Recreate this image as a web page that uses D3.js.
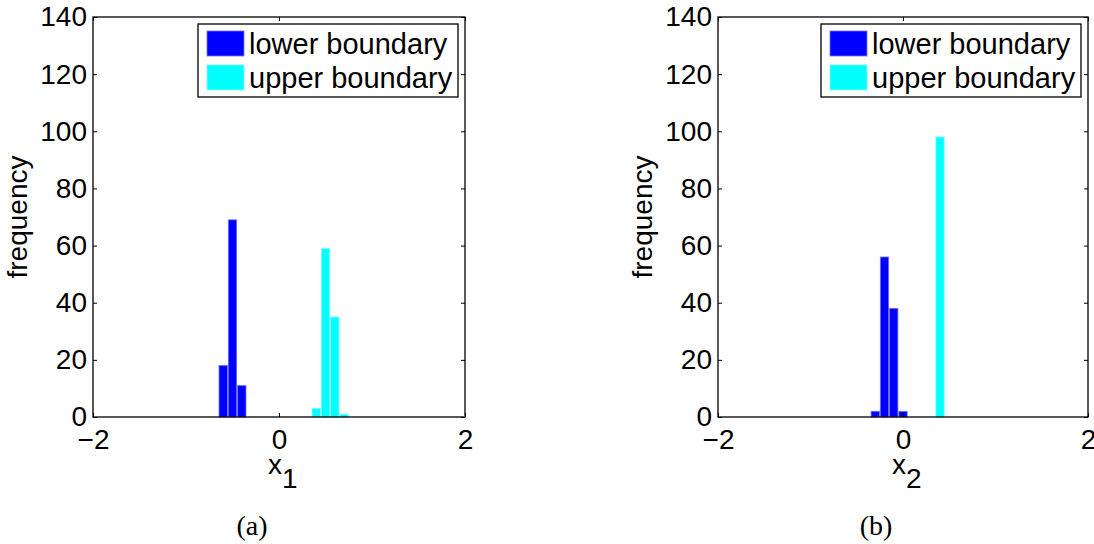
<!DOCTYPE html>
<html>
<head>
<meta charset="utf-8">
<script src="https://cdn.jsdelivr.net/npm/d3@7"></script>
<style>
body{margin:0;background:#fff;}
svg{display:block;}
</style>
</head>
<body>
<div class="fig"></div>
<script>
// bin centres and counts
var binsA_lower=[-0.6,-0.5,-0.4];
var countsA_lower=[18,69,11];
var binsA_upper=[0.4,0.5,0.6,0.7];
var countsA_upper=[3,59,35,1];
var binsB_lower=[-0.3,-0.2,-0.1,0.0];
var countsB_lower=[2,56,38,2];
var binsB_upper=[0.4];
var countsB_upper=[98];

var xTicks=[-2,0,2];
var yTicks=[0,20,40,60,80,100,120,140];
var seriesNames=['lower boundary','upper boundary'];
var seriesColors=['#0000ff','#00ffff'];
var seriesEdges=['#7070ff','#80ffff'];

var width=1094,height=544;
var sans='"Liberation Sans",Arial,sans-serif';
var svg=d3.select('div.fig')
		.append('svg')
		.attr('width',width)
		.attr('height',height)
		.style('font-family',sans);

function Hist(left,right,bins,counts,varName,tag){
	var top=17,bottom=417;
	var x=d3.scaleLinear().domain([-2,2]).range([left,right]);
	var y=d3.scaleLinear().domain([0,140]).range([bottom,top]);
	var g=svg.append('g');
	var binW=0.09;

	bins.forEach(function(b,s){
		var data=b.map(function(c,i){return {c:c,n:counts[s][i]};});
		g.selectAll('rect.s'+s)
			.data(data)
			.enter()
			.append('rect')
			.attr('class','s'+s)
			.attr('x',function(d){return x(d.c-binW/2);})
			.attr('width',function(d){return x(d.c+binW/2)-x(d.c-binW/2);})
			.attr('y',function(d){return y(d.n);})
			.attr('height',function(d){return y(0)-y(d.n);})
			.attr('fill',seriesColors[s])
			.attr('stroke',seriesEdges[s])
			.attr('stroke-width',0.8);
	});

	//axes, ticks inside
	var fs=28;
	var fmt=d3.format('d');
	g.append('g')
		.attr('transform','translate(0,'+bottom+')')
		.call(d3.axisBottom(x).tickValues(xTicks).tickFormat(fmt).tickSize(-4).tickPadding(12));
	g.append('g')
		.attr('transform','translate(0,'+top+')')
		.call(d3.axisTop(x).tickValues(xTicks).tickSize(-4).tickFormat(''));
	g.append('g')
		.attr('transform','translate('+left+',0)')
		.call(d3.axisLeft(y).tickValues(yTicks).tickFormat(fmt).tickSize(-4).tickPadding(6));
	g.append('g')
		.attr('transform','translate('+right+',0)')
		.call(d3.axisRight(y).tickValues(yTicks).tickSize(-4).tickFormat(''));
	g.selectAll('.domain').remove();
	g.selectAll('.tick line').attr('stroke','#000').attr('stroke-width',1);
	g.selectAll('.tick text')
		.style('font-family',sans)
		.style('font-size',fs+'px')
		.attr('fill','#000');
	g.append('rect')
		.attr('x',left).attr('y',top)
		.attr('width',right-left).attr('height',bottom-top)
		.attr('fill','none').attr('stroke','#000').attr('stroke-width',1.3);

	//labels
	var xl=g.append('text')
		.attr('x',x(0)-11)
		.attr('y',474)
		.style('font-size',fs+'px')
		.text('x');
	xl.append('tspan')
		.attr('dy',14)
		.text(varName);
	g.append('text')
		.attr('transform','translate('+(left-66)+','+(top+bottom)/2+') rotate(-90)')
		.attr('text-anchor','middle')
		.style('font-size',fs+'px')
		.text('frequency');
	g.append('text')
		.attr('x',x(0)-27)
		.attr('y',535)
		.attr('text-anchor','middle')
		.style('font-family','"Liberation Serif","Times New Roman",serif')
		.style('font-size','28px')
		.text(tag);

	//legend
	var lx=right-267,ly=24;
	var lg=g.append('g').attr('transform','translate('+lx+','+ly+')');
	lg.append('rect')
		.attr('width',260).attr('height',73)
		.attr('fill','#fff').attr('stroke','#000').attr('stroke-width',1.3);
	seriesNames.forEach(function(name,i){
		lg.append('rect')
			.attr('x',9).attr('y',7+i*34)
			.attr('width',37).attr('height',25)
			.attr('fill',seriesColors[i])
			.attr('stroke',seriesEdges[i])
			.attr('stroke-width',0.8);
		lg.append('text')
			.attr('x',51).attr('y',30+i*34)
			.style('font-size','29px')
			.text(name);
	});
}

Hist(93,465,[binsA_lower,binsA_upper],[countsA_lower,countsA_upper],'1','(a)');
Hist(718,1088,[binsB_lower,binsB_upper],[countsB_lower,countsB_upper],'2','(b)');
</script>
</body>
</html>
